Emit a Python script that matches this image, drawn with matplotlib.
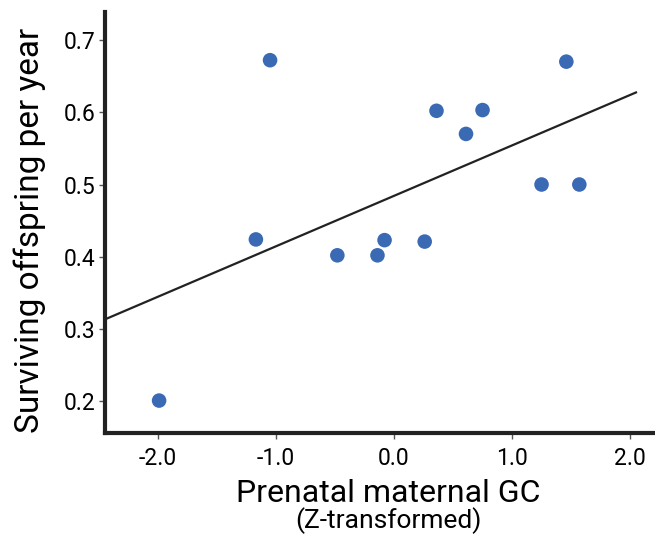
import matplotlib
matplotlib.use('Agg')
import matplotlib.pyplot as plt
import numpy as np

plt.rcParams['font.family'] = ['Roboto', 'DejaVu Sans']

# prenatal maternal GC (z) vs surviving offspring per year
gc = [-1.99, -1.17, -1.05, -0.48, -0.14, -0.08, 0.26, 0.36, 0.61, 0.75, 1.25, 1.46, 1.57]
offspring = [0.201, 0.424, 0.672, 0.402, 0.402, 0.423, 0.421, 0.602, 0.570, 0.603, 0.500, 0.670, 0.500]
line_range = [-2.45, 2.05]
xticks = [-2.0, -1.0, 0.0, 1.0, 2.0]
yticks = [0.2, 0.3, 0.4, 0.5, 0.6, 0.7]

fig = plt.figure(figsize=(6.55, 5.36), dpi=100)
ax = fig.add_axes([0.160, 0.192, 0.838, 0.786])

slope, icpt = np.polyfit(gc, offspring, 1)
lx = np.array(line_range)
ax.plot(lx, icpt + slope*lx, color='#222222', lw=1.6, zorder=2)
ax.scatter(gc, offspring, s=110, color='#3a6ab4', edgecolors='none', zorder=3)

ax.set_xlim(-2.45, 2.2)
ax.set_ylim(0.156, 0.739)
ax.set_xticks(xticks)
ax.set_xticklabels(['%.1f' % t for t in xticks])
ax.set_yticks(yticks)
ax.set_yticklabels(['%.1f' % t for t in yticks])
ax.tick_params(labelsize=16.5, length=4, width=1, color='#555555')
ax.tick_params(axis='y', pad=3)
ax.tick_params(axis='x', pad=6)

for s in ['top', 'right']:
    ax.spines[s].set_visible(False)
for s in ['left', 'bottom']:
    ax.spines[s].set_linewidth(3)
    ax.spines[s].set_color('#222222')

fig.text(0.046, 0.571, 'Surviving offspring per year', fontsize=24, rotation=90,
         ha='center', va='center')
fig.text(0.593, 0.080, 'Prenatal maternal GC', fontsize=23, ha='center', va='center')
fig.text(0.593, 0.028, '(Z-transformed)', fontsize=19, ha='center', va='center')

plt.savefig('out.png')
